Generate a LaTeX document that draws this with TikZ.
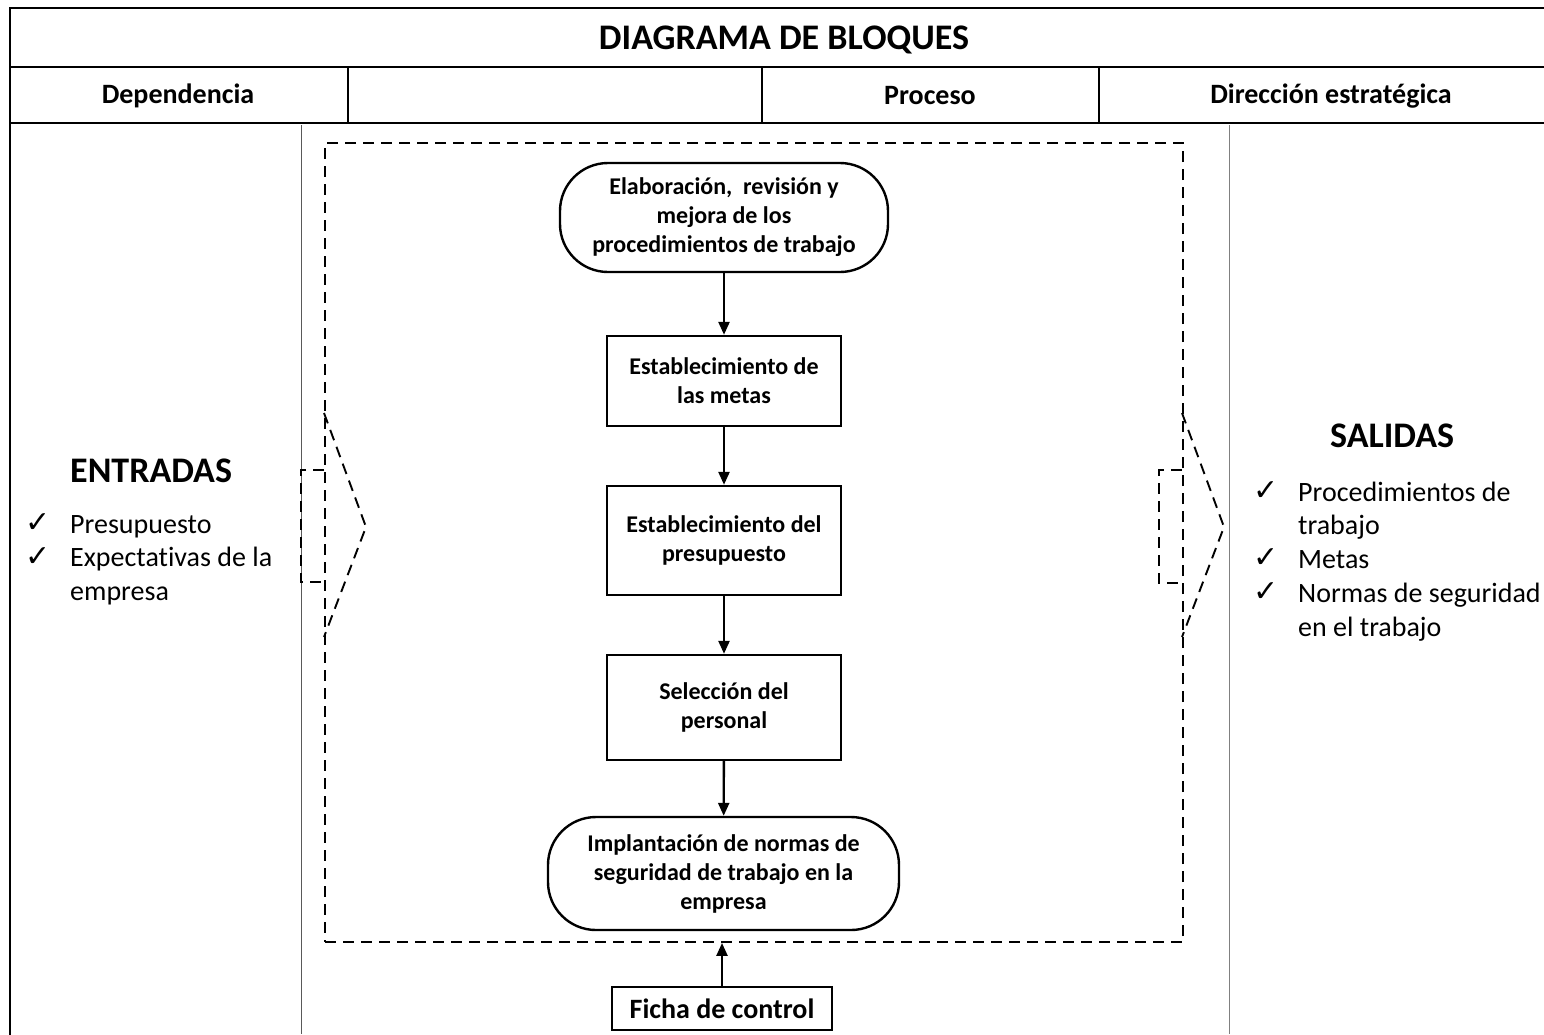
\documentclass[tikz,border=0pt]{standalone}
\usepackage{fontspec}
\setmainfont{Carlito}[Ligatures=NoCommon]
\newfontfamily\symfont{DejaVu Sans}
\usetikzlibrary{arrows.meta}

\begin{document}
\begin{tikzpicture}[x=1pt,y=-1pt,
  frame/.style={line width=2.4pt, line cap=rect},
  sep/.style={line width=1pt, black!65},
  dashline/.style={line width=1.9pt, dash pattern=on 11pt off 7pt},
  headtxt/.style={font=\bfseries\fontsize{28}{33}\selectfont},
  titletxt/.style={font=\bfseries\fontsize{36}{42}\selectfont},
  bigtxt/.style={font=\bfseries\fontsize{36}{42}\selectfont, anchor=base west, inner sep=0pt},
  itemtxt/.style={font=\fontsize{28}{34}\selectfont, anchor=base west, inner sep=0pt},
  tick/.style={font=\symfont\fontsize{30}{34}\selectfont, anchor=base west, inner sep=0pt},
  stepbox/.style={draw, line width=2.4pt, minimum width=234pt, align=center,
    font=\bfseries\fontsize{24}{29}\selectfont, inner sep=0pt},
  endbox/.style={stepbox, rounded corners=48pt},
  arr/.style={line width=2.4pt, -{Triangle[length=13pt, width=11pt]}}
]
\useasboundingbox (0,0) rectangle (1544,1034);
\fill[white] (0,0) rectangle (1544,1034);

% table frame
\draw[frame] (10,1034) -- (10,8) -- (1544,8);
\draw[frame] (10,67) -- (1544,67);
\draw[frame] (10,123) -- (1544,123);
\draw[frame] (348,67) -- (348,123);
\draw[frame] (762,67) -- (762,123);
\draw[frame] (1099,67) -- (1099,123);

\node[titletxt] (title) at (784,40) {DIAGRAMA DE BLOQUES};
\node[headtxt] (hdep) at (178,96) {Dependencia};
\node[headtxt] (hproc) at (930,96) {Proceso};
\node[headtxt] (hdir) at (1331,96) {Dirección estratégica};

% column separators
\draw[sep] (301,125) -- (301,1034);
\draw[sep, black!50] (1229,125) -- (1229,1034);

% process boundary
\node[draw, dashline, minimum width=858pt, minimum height=799pt, inner sep=0pt] (proc) at (754,542.5) {};

% input arrow
\draw[dashline] (324,413) -- (366,527) -- (324,637);
\draw[dashline] (324,470) -- (301,470) -- (301,582) -- (324,582);
% output arrow
\draw[dashline] (1182,413) -- (1224,527) -- (1182,637);
\draw[dashline] (1182,470) -- (1159,470) -- (1159,583) -- (1182,583);

% process steps
\node[endbox, minimum width=328pt, minimum height=109pt] (s1) at (724,217.5)
  {Elaboración,\ \ revisión y\\mejora de los\\procedimientos de trabajo};
\node[stepbox, minimum height=90pt] (s2) at (724,381) {Establecimiento de\\las metas};
\node[stepbox, minimum height=109pt] (s3) at (724,540.5) {Establecimiento del\\presupuesto};
\node[stepbox, minimum height=105pt] (s4) at (724,707.5) {Selección del\\personal};
\node[endbox, minimum width=351pt, minimum height=113pt] (s5) at (723.5,873.5)
  {Implantación de normas de\\seguridad de trabajo en la\\empresa};

\draw[arr] (s1) -- (s2);
\draw[arr] (s2) -- (s3);
\draw[arr] (s3) -- (s4);
\draw[arr] (s4) -- (s5);

\node[draw, line width=2pt, minimum width=220pt, minimum height=43pt, inner sep=0pt,
  font=\bfseries\fontsize{28}{33}\selectfont] (ficha) at (722,1008.5) {Ficha de control};
\draw[arr] (ficha) -- (ficha |- proc.south);

% inputs
\node[bigtxt] (ent) at (70,482) {ENTRADAS};
\node[tick] (t1) at (25,532) {✓};
\node[itemtxt] (e1) at (70,533) {Presupuesto};
\node[tick] (t2) at (25,566) {✓};
\node[itemtxt] (e2) at (70,566.5) {Expectativas de la};
\node[itemtxt] (e3) at (70,600) {empresa};

% outputs
\node[bigtxt] (sal) at (1330,447) {SALIDAS};
\node[tick] (t3) at (1253,500) {✓};
\node[itemtxt] (o1) at (1298,501) {Procedimientos de};
\node[itemtxt] (o2) at (1298,534) {trabajo};
\node[tick] (t4) at (1253,567) {✓};
\node[itemtxt] (o3) at (1298,568) {Metas};
\node[tick] (t5) at (1253,601) {✓};
\node[itemtxt] (o4) at (1298,602) {Normas de seguridad};
\node[itemtxt] (o5) at (1298,636) {en el trabajo};
\end{tikzpicture}
\end{document}
